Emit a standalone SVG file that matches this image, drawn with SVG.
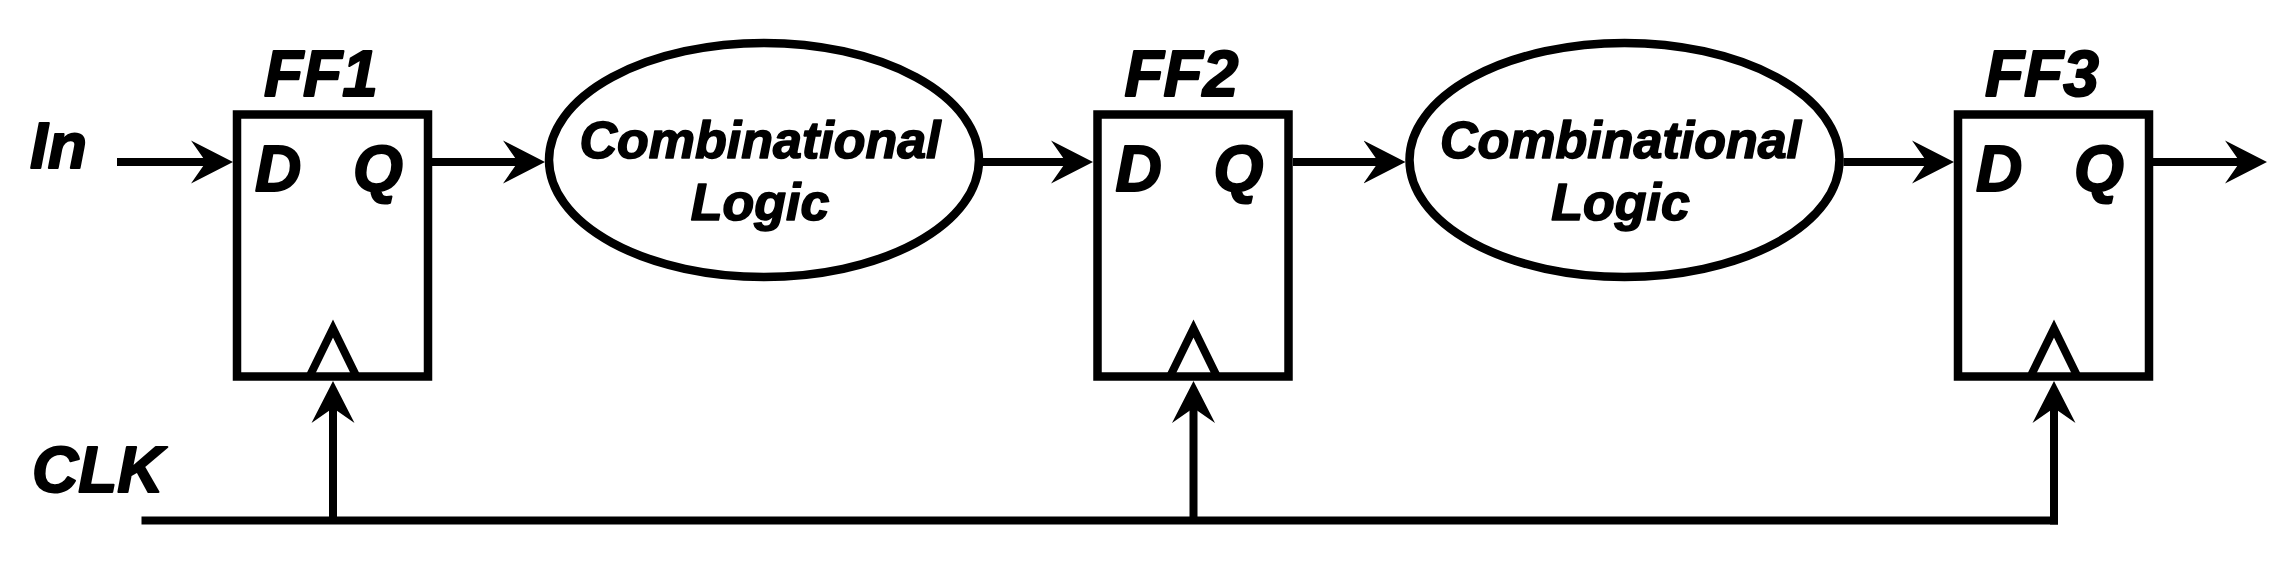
<svg xmlns="http://www.w3.org/2000/svg" width="2284" height="584" viewBox="0 0 2284 584">
<style>
.t{font-family:"Liberation Sans",Arial,sans-serif;font-weight:bold;font-style:italic;fill:#000;stroke:#000;stroke-linejoin:round}
.big{font-size:64px;stroke-width:2}
.cl{font-size:52px;text-anchor:middle;stroke-width:1.6}
.box{fill:#fff;stroke:#000;stroke-width:8.5}
.ell{fill:#fff;stroke:#000;stroke-width:8.5}
.clk{fill:none;stroke:#000;stroke-width:8;stroke-linejoin:miter;stroke-miterlimit:10}
.w{fill:none;stroke:#000;stroke-width:8}
</style>
<defs>
<marker id="ah" markerUnits="userSpaceOnUse" viewBox="0 0 44 44" markerWidth="44" markerHeight="44" refX="22" refY="22" orient="auto">
<path d="M42,22 L0,0.5 L15,22 L0,43.5 Z" fill="#000"/>
</marker>
</defs>
<rect width="2284" height="584" fill="#fff"/>
<text class="t big" x="30" y="168">In</text>
<text class="t big" x="32" y="492">CLK</text>
<g id="ff1">
<rect class="box" x="237" y="114.5" width="191" height="262"/>
<polyline class="clk" points="309.5,376.5 333,328.5 356.5,376.5"/>
<text class="t big" x="264" y="96">FF1</text>
<text class="t big" x="255" y="191">D</text>
<text class="t big" x="353" y="191">Q</text>
</g>
<g id="logic1">
<ellipse class="ell" cx="764" cy="160" rx="215" ry="117"/>
<text class="t cl" x="760" y="158">Combinational</text>
<text class="t cl" x="760" y="220">Logic</text>
</g>
<g id="ff2">
<rect class="box" x="1097.5" y="114.5" width="191" height="262"/>
<polyline class="clk" points="1170,376.5 1193.5,328.5 1217,376.5"/>
<text class="t big" x="1124.5" y="96">FF2</text>
<text class="t big" x="1115.5" y="191">D</text>
<text class="t big" x="1213.5" y="191">Q</text>
</g>
<g id="logic2">
<ellipse class="ell" cx="1624.5" cy="160" rx="215" ry="117"/>
<text class="t cl" x="1620.5" y="158">Combinational</text>
<text class="t cl" x="1620.5" y="220">Logic</text>
</g>
<g id="ff3">
<rect class="box" x="1958" y="114.5" width="191" height="262"/>
<polyline class="clk" points="2030.5,376.5 2054,328.5 2077.5,376.5"/>
<text class="t big" x="1985" y="96">FF3</text>
<text class="t big" x="1976" y="191">D</text>
<text class="t big" x="2074" y="191">Q</text>
</g>
<g id="connectors">
<line class="w" x1="117" y1="162" x2="213" y2="162" marker-end="url(#ah)"/>
<line class="w" x1="432" y1="162" x2="525" y2="162" marker-end="url(#ah)"/>
<line class="w" x1="983" y1="162" x2="1073" y2="162" marker-end="url(#ah)"/>
<line class="w" x1="1293" y1="162" x2="1385.5" y2="162" marker-end="url(#ah)"/>
<line class="w" x1="1843.5" y1="162" x2="1934" y2="162" marker-end="url(#ah)"/>
<line class="w" x1="2153" y1="162" x2="2247" y2="162" marker-end="url(#ah)"/>
<polyline class="w" points="141.5,520.5 2058,520.5"/>
<line class="w" x1="333" y1="520.5" x2="333" y2="401" marker-end="url(#ah)"/>
<line class="w" x1="1193.5" y1="520.5" x2="1193.5" y2="401" marker-end="url(#ah)"/>
<line class="w" x1="2054" y1="524.5" x2="2054" y2="401" marker-end="url(#ah)"/>
</g>
</svg>
